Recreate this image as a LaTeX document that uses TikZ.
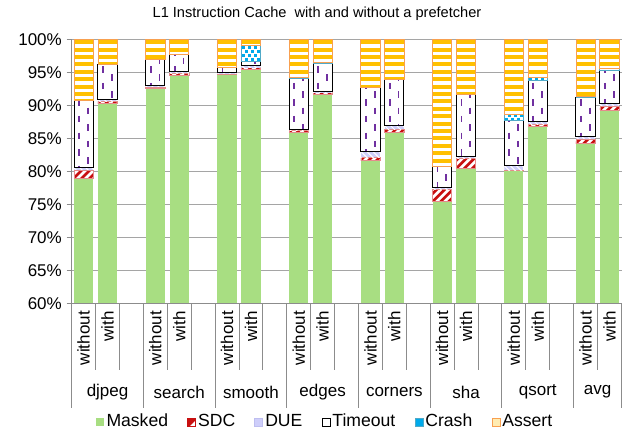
\documentclass[tikz,border=0pt]{standalone}
\usepackage{fontspec}
\setmainfont{Liberation Sans}
\usetikzlibrary{positioning}
\definecolor{maskedc}{RGB}{168,222,130}
\definecolor{sdcred}{RGB}{200,16,16}
\definecolor{sdcedge}{RGB}{228,140,140}
\definecolor{duec}{RGB}{206,206,250}
\definecolor{dueedge}{RGB}{190,190,240}
\definecolor{toutdash}{RGB}{112,48,160}
\definecolor{crashc}{RGB}{0,170,235}
\definecolor{crashedge}{RGB}{80,170,200}
\definecolor{assertc}{RGB}{255,192,0}
\definecolor{assertedge}{RGB}{248,160,80}
\definecolor{gridc}{RGB}{165,165,165}
\definecolor{axisc}{RGB}{140,140,140}

\newcommand\mybar[6]{%
 \pgfmathsetmacro\xl{71.7+(#1+0.5)*23.9-9.6}%
 \pgfmathsetmacro\xr{\xl+19.2}%
 \pgfmathsetmacro\yA{yv(60)}%
 \pgfmathsetmacro\yB{yv(#2)}%
 \pgfmathsetmacro\yC{yv(#3)}%
 \pgfmathsetmacro\yD{yv(#4)}%
 \pgfmathsetmacro\yE{yv(#5)}%
 \pgfmathsetmacro\yF{yv(#6)}%
 \pgfmathsetmacro\yG{yv(100)}%
 \pgfmathsetmacro\hT{#5-#4}%
 \pgfmathsetmacro\hC{#6-#5}%
 % Masked
 \fill[maskedc] (\xl,\yA) rectangle (\xr,\yB);
 % SDC
 \begin{scope}
  \clip (\xl,\yB) rectangle (\xr,\yC);
  \fill[white] (\xl,\yB) rectangle (\xr,\yC);
  \foreach \k in {-28,-20,...,28} \draw[sdcred,line width=2.6] (\xl+\k,\yB+4) -- ++(24,-24);
 \end{scope}
 \draw[sdcedge,line width=0.6] (\xl,\yB) rectangle (\xr,\yC);
 % DUE
 \begin{scope}
  \clip (\xl,\yC) rectangle (\xr,\yD);
  \fill[duec] (\xl,\yC) rectangle (\xr,\yD);
  \foreach \k in {-26,-20,...,26} \draw[white,line width=1] (\xl+\k,\yD-2) -- ++(24,24);
 \end{scope}
 % Timeout
 \ifdim\hT pt>0.05pt
  \fill[white] (\xl,\yD) rectangle (\xr,\yE);
  \begin{scope}
   \clip (\xl,\yD) rectangle (\xr,\yE);
   \foreach \t in {33,49.6,...,310} {
     \draw[toutdash,line width=1.8] (\xl+5,\t) -- ++(0,6.5);
     \draw[toutdash,line width=1.8] (\xl+13.8,\t+8.3) -- ++(0,6.5);
   }
  \end{scope}
  \draw[black,line width=1] (\xl,\yD) rectangle (\xr,\yE);
 \fi
 % Crash
 \ifdim\hC pt>0.05pt
  \fill[white] (\xl,\yE) rectangle (\xr,\yF);
  \begin{scope}
   \clip (\xl,\yE) rectangle (\xr,\yF);
   \foreach \t in {38,46,...,125} {
     \foreach \s in {0,6,12,18} {
       \fill[crashc] (\xl+1+\s,\t) rectangle ++(2.7,2.7);
       \fill[crashc] (\xl+4+\s,\t+4) rectangle ++(2.7,2.7);
     }
   }
  \end{scope}
  \draw[crashedge,line width=0.8] (\xl,\yE) rectangle (\xr,\yF);
 \fi
 % Assert
 \fill[white] (\xl,\yF) rectangle (\xr,\yG);
 \begin{scope}
  \clip (\xl,\yF) rectangle (\xr,\yG);
  \foreach \t in {40.3,47.7,...,310} \fill[assertc] (\xl,\t) rectangle (\xr,\t+4);
 \end{scope}
 \draw[assertedge,line width=0.8] (\xl,\yF) rectangle (\xr,\yG);
}

\begin{document}
\begin{tikzpicture}[x=1pt,y=-1pt,
  declare function={yv(\v)=39.3+(100-\v)*6.6;},
  lab/.style={font=\fontsize{17}{20}\selectfont, inner sep=0pt},
  legtext/.style={font=\fontsize{17.6}{20}\selectfont, inner sep=0pt, text height=12pt, text depth=3.5pt},
  swatch/.style={minimum size=8pt, inner sep=0pt, line width=0.6pt},
  gridline/.style={gridc, line width=1pt},
  axisline/.style={axisc, line width=1pt}]
\useasboundingbox (0,0) rectangle (632,433);
\fill[white] (0,0) rectangle (632,433);

% title
\node[font=\fontsize{14.6}{17}\selectfont, inner sep=0pt] (title) at (317,14) {L1 Instruction Cache\ \ with and without a prefetcher};

% gridlines and y labels
\foreach \v in {65,70,...,100} {
  \draw[gridline] (71.7,{yv(\v)}) -- (621.6,{yv(\v)});
}
\foreach \v in {60,65,...,100} {
  \draw[axisline] (66.5,{yv(\v)}) -- (71.7,{yv(\v)});
  \node[lab, anchor=east] (yl\v) at (62,{yv(\v)}) {\v\%};
}

% bars: slot, masked top, SDC top, DUE top, Timeout top, Crash top (Assert to 100)
\mybar{0}{79.0}{80.2}{80.5}{90.8}{90.8}
\mybar{1}{90.3}{90.65}{90.9}{96.2}{96.2}
\mybar{3}{92.65}{92.8}{92.95}{96.9}{96.9}
\mybar{4}{94.6}{94.85}{95.05}{97.7}{97.7}
\mybar{6}{94.7}{94.8}{94.9}{95.7}{95.7}
\mybar{7}{95.5}{95.7}{96.1}{96.7}{99.0}
\mybar{9}{85.9}{86.25}{86.4}{94.1}{94.2}
\mybar{10}{91.7}{91.9}{92.05}{96.4}{96.5}
\mybar{12}{81.7}{82.1}{83.0}{92.7}{92.7}
\mybar{13}{85.9}{86.4}{86.9}{93.9}{93.9}
\mybar{15}{75.4}{77.3}{77.6}{80.7}{80.7}
\mybar{16}{80.45}{82.0}{82.2}{91.6}{91.7}
\mybar{18}{80.1}{80.15}{80.85}{87.7}{88.6}
\mybar{19}{86.75}{87.1}{87.6}{93.7}{94.3}
\mybar{21}{84.25}{84.9}{85.25}{91.2}{91.3}
\mybar{22}{89.3}{89.9}{90.2}{95.25}{95.6}

% axes
\draw[axisline] (71.7,{yv(60)}) -- (71.7,{yv(100)});
\draw[axisline] (71.7,{yv(60)}) -- (621.6,{yv(60)});
\foreach \i in {0,3,6,9,12,15,18,21,23}
  \draw[axisline] ({71.7+\i*23.9},{yv(60)}) -- ++(0,105);
\foreach \i in {1,2,4,5,7,8,10,11,13,14,16,17,19,20,22}
  \draw[axisline] ({71.7+\i*23.9},{yv(60)}) -- ++(0,67);

% category labels
\foreach \g in {0,...,7} {
  \node[lab, rotate=90, anchor=east] (wo\g) at ({71.7+(3*\g+0.5)*23.9},311) {without};
  \node[lab, rotate=90, anchor=east] (wi\g) at ({71.7+(3*\g+1.5)*23.9},311) {with};
}
\foreach \n/\c in {djpeg/107.55, search/179.25, smooth/250.95, edges/322.65, corners/394.35, sha/466.05, qsort/537.75, avg/597.5}
  \node[lab] (grp-\n) at (\c,392) {\n};

% legend
\node[swatch, fill=maskedc] (sw1) at (100,422) {};
\node[legtext, right=2pt of sw1] (lt1) {Masked};
\node[swatch, draw=sdcred, fill=white, right=19pt of lt1,
  path picture={\draw[sdcred,line width=3pt] (path picture bounding box.south west) -- (path picture bounding box.north east);
                \fill[sdcred] (path picture bounding box.south west) -- (path picture bounding box.north west) -- (path picture bounding box.north east) -- cycle;}] (sw2) {};
\node[legtext, right=2pt of sw2] (lt2) {SDC};
\node[swatch, fill=duec, draw=dueedge, right=19pt of lt2] (sw3) {};
\node[legtext, right=2pt of sw3] (lt3) {DUE};
\node[swatch, fill=white, draw=black, right=19pt of lt3] (sw4) {};
\node[legtext, right=2pt of sw4] (lt4) {Timeout};
\node[swatch, fill=crashc, draw=crashedge, right=19pt of lt4,
  path picture={\fill[white] ([shift={(2.5pt,-2.5pt)}]path picture bounding box.south west) rectangle ++(3pt,-3pt);}] (sw5) {};
\node[legtext, right=2pt of sw5] (lt5) {Crash};
\node[swatch, fill=assertc, draw=assertedge, right=19pt of lt5,
  path picture={\fill[white!70!assertc] ([shift={(0pt,-3pt)}]path picture bounding box.south west) rectangle ([shift={(0pt,3pt)}]path picture bounding box.north east);}] (sw6) {};
\node[legtext, right=2pt of sw6] (lt6) {Assert};
\end{tikzpicture}
\end{document}
